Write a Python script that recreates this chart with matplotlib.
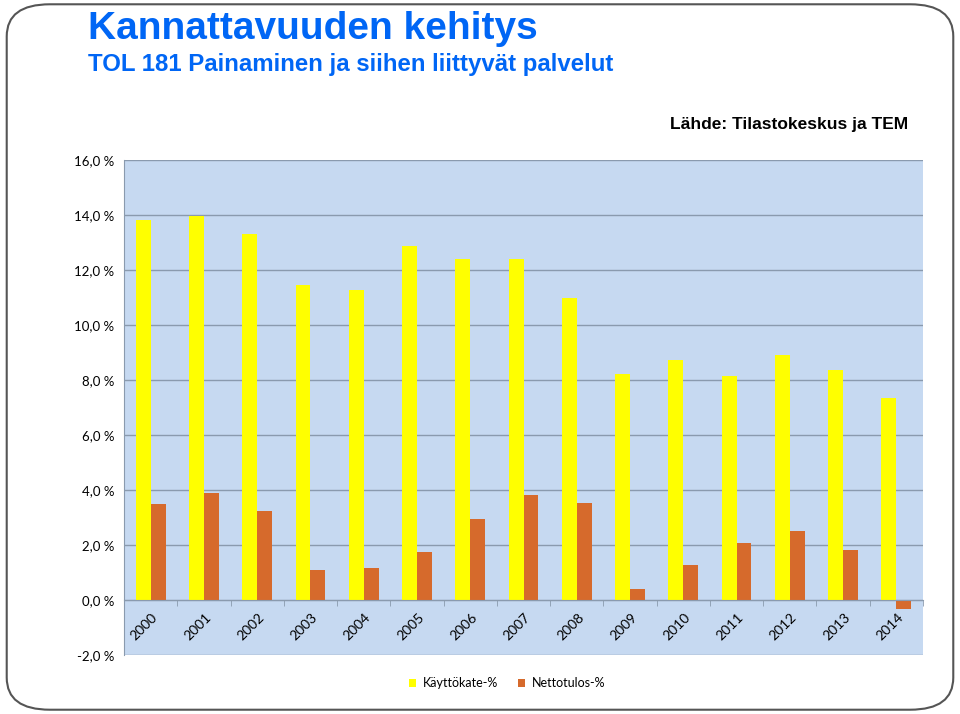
import matplotlib
matplotlib.use("Agg")
import matplotlib.pyplot as plt
from matplotlib.patches import FancyBboxPatch
import matplotlib.transforms as mtransforms
import numpy as np

years = ["2000", "2001", "2002", "2003", "2004", "2005", "2006", "2007",
         "2008", "2009", "2010", "2011", "2012", "2013", "2014"]
kayttokate = [13.82, 13.96, 13.30, 11.45, 11.27, 12.87, 12.40, 12.40,
              10.98, 8.22, 8.73, 8.15, 8.90, 8.36, 7.35]
nettotulos = [3.49, 3.89, 3.24, 1.09, 1.16, 1.75, 2.95, 3.82,
              3.53, 0.40, 1.27, 2.07, 2.51, 1.82, -0.33]
y_ticks = [-2, 0, 2, 4, 6, 8, 10, 12, 14, 16]

title = "Kannattavuuden kehitys"
subtitle = "TOL 181 Painaminen ja siihen liittyvät palvelut"
source = "Lähde: Tilastokeskus ja TEM"
series_names = ["Käyttökate-%", "Nettotulos-%"]

YELLOW = "#FFFF00"
ORANGE = "#D66A2C"
BLUE = "#0066F5"
GRID = "#8A9AAE"
TICKFONT = ["Lato", "DejaVu Sans"]

fig = plt.figure(figsize=(9.6, 7.14), dpi=100)

# rounded frame
frame = FancyBboxPatch((0.007, 0.006), 0.986, 0.988,
                       boxstyle="round,pad=0,rounding_size=0.045",
                       transform=fig.transFigure, facecolor="none",
                       edgecolor="#555555", linewidth=1.5, zorder=-10)
fig.patches.append(frame)

head_font = ["Liberation Sans", "DejaVu Sans"]
fig.text(88/960, 1-29/714, title, fontsize=28, fontweight="bold",
         color=BLUE, family=head_font, va="center", ha="left")
fig.text(88/960, 1-65/714, subtitle, fontsize=17.3, fontweight="bold",
         color=BLUE, family=head_font, va="center", ha="left")
fig.text(908/960, 1-125/714, source, fontsize=12.5, fontweight="bold",
         color="black", family=head_font, va="center", ha="right")

ax = fig.add_axes([124/960, 1-655/714, (923-124)/960, (655-160)/714])
ax.set_facecolor("#C6D9F1")
x = np.arange(len(years))
w = 0.28
ax.bar(x - w/2, kayttokate, width=w, color=YELLOW, zorder=3,
       label=series_names[0])
ax.bar(x + w/2, nettotulos, width=w, color=ORANGE, zorder=3,
       label=series_names[1])

ax.set_xlim(-0.5, len(years) - 0.5)
ax.set_ylim(-2, 16)
ax.set_yticks(y_ticks)
ax.set_yticklabels([f"{v:.1f} %".replace(".", ",") for v in y_ticks],
                   fontsize=9.5, family=TICKFONT)
for v in y_ticks:
    ax.axhline(v, color=GRID, lw=1.0, zorder=1)
ax.tick_params(axis="y", length=0, pad=7)

for s in ["top", "right"]:
    ax.spines[s].set_visible(False)
ax.spines["left"].set_color(GRID)
ax.spines["bottom"].set_position(("data", 0))
ax.spines["bottom"].set_color(GRID)
ax.spines["bottom"].set_zorder(4)

ax.set_xticks(x)
ax.set_xticklabels(years, rotation=45, ha="right", va="center",
                   rotation_mode="anchor", fontsize=10, family=TICKFONT)
ax.tick_params(axis="x", which="major", length=0, pad=11)
offset = mtransforms.ScaledTranslation(5/100, 0, fig.dpi_scale_trans)
for lbl in ax.get_xticklabels():
    lbl.set_transform(lbl.get_transform() + offset)
ax.set_xticks(np.arange(len(years) + 1) - 0.5, minor=True)
ax.tick_params(axis="x", which="minor", length=4, color=GRID,
               direction="out")

leg = fig.legend(loc="center", bbox_to_anchor=(507/960, 1-683/714),
                 ncol=2, frameon=False,
                 prop={"family": TICKFONT, "size": 9},
                 handlelength=0.6, handleheight=0.6, handletextpad=0.5,
                 columnspacing=1.6)

fig.savefig("out.png", dpi=100)
